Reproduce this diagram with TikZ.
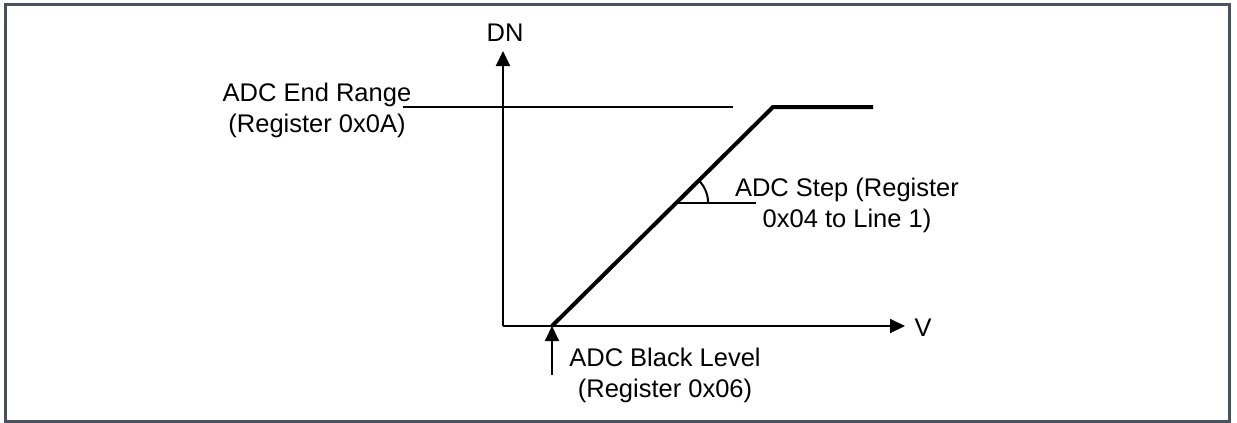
\documentclass[tikz,border=0pt]{standalone}
\usepackage{fontspec}
\setmainfont{Liberation Sans}
\usetikzlibrary{arrows.meta,calc}
\definecolor{frame}{HTML}{46535F}

\begin{document}
\begin{tikzpicture}[x=1pt,y=-1pt,>={Triangle[length=15pt,width=14pt]},font=\fontsize{25.5}{31}\selectfont]
    \useasboundingbox(0,0)rectangle(1237,423);
    \draw[frame,line width=3pt](5.5,4.5)rectangle(1229.5,421.5);
    \coordinate(O)at(503,326);
    \coordinate(Y)at(503,51);
    \coordinate(X)at(905,326);
    \coordinate(B)at(552,326);
    \coordinate(K)at(773,107);
    \coordinate(E)at(873,107);
    \coordinate(R)at(403,107);
    \coordinate(Q)at(733,107);
    \coordinate(P)at(552,375);
    \coordinate(S)at($(B)!.5616!(K)$);
    \coordinate(T)at($(S)+(80pt,0pt)$);
    \draw[->,line width=2pt](O)--(Y);
    \draw[->,line width=2pt](O)--(X);
    \draw[line width=2pt](R)--(Q);
    \draw[line width=4pt](B)--(K)--(E);
    \draw[->,line width=2pt](P)--(B);
    \draw[line width=2pt](S)--(T);
    \draw[line width=2pt]($(S)+(32pt,0pt)$)arc[start angle=0,end angle=45,radius=32pt];
    \node(dn)at(505,33){DN};
    \node(v)at(923,328){V};
    \node[align=center](endrange)at(317,110){ADC End Range\\(Register 0x0A)};
    \node[align=center](adcstep)at(847,205.5){ADC Step (Register\\0x04 to Line 1)};
    \node[align=center](blacklevel)at(665,375.5){ADC Black Level\\(Register 0x06)};
\end{tikzpicture}
\end{document}
